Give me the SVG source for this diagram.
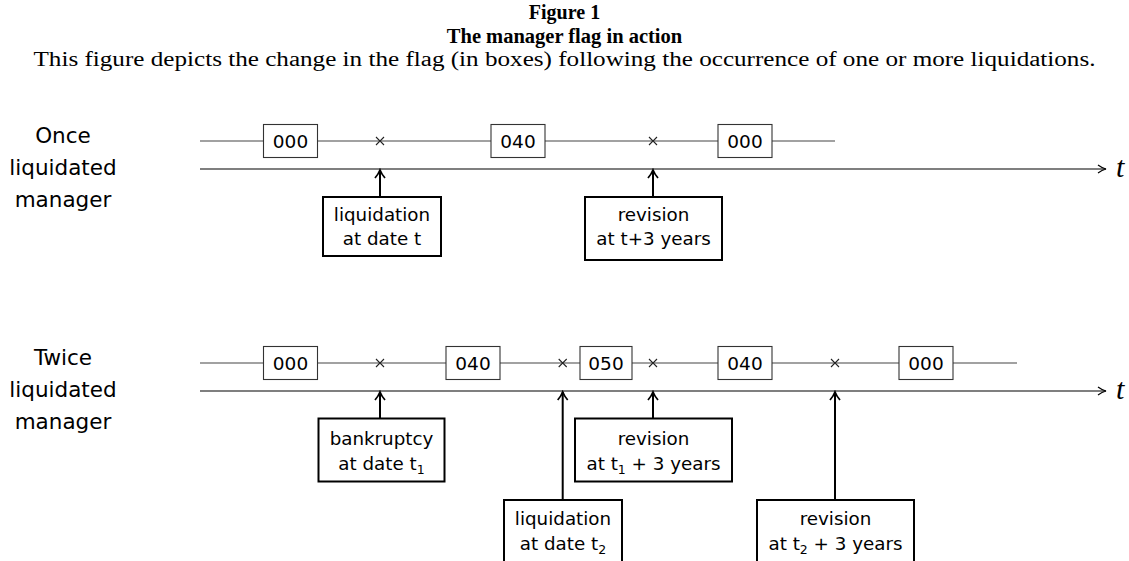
<svg xmlns="http://www.w3.org/2000/svg" width="1129" height="561" viewBox="0 0 1129 561">
<defs>
<style>
.serif{font-family:"Liberation Serif","DejaVu Serif",serif;fill:#000}
.sans{font-family:"DejaVu Sans","Liberation Sans",sans-serif;fill:#000}
.side{font-size:21.5px;text-anchor:middle}
.flagline{stroke:#444;stroke-width:1.1;fill:none}
.axis{stroke:#000;stroke-width:1.2;fill:none}
.flag rect{fill:#fff;stroke:#333;stroke-width:1.1}
.flag text{font-size:18.5px;text-anchor:middle}
.ev rect{fill:#fff;stroke:#000;stroke-width:2}
.ev text{font-size:18.3px;text-anchor:middle}
.up{stroke:#000;stroke-width:2;fill:none}
.mark{stroke:#222;stroke-width:1.1;fill:none}
.sub{font-size:12.5px}
</style>
<marker id="ah" viewBox="0 0 10 10" refX="9" refY="5" markerWidth="10" markerHeight="10" markerUnits="userSpaceOnUse" orient="auto">
<path d="M1,1 Q5,4 9,5 Q5,6 1,9" fill="none" stroke="#000" stroke-width="1.2"/>
</marker>
<marker id="uh" viewBox="0 0 12 12" refX="10" refY="6" markerWidth="12" markerHeight="12" markerUnits="userSpaceOnUse" orient="auto">
<path d="M2,1 Q6,4.5 10,6 Q6,7.5 2,11" fill="none" stroke="#000" stroke-width="1.8"/>
</marker>
</defs>
<rect width="1129" height="561" fill="#fff"/>

<g id="title" class="serif" text-anchor="middle">
<text x="564.5" y="19" font-size="20" font-weight="bold">Figure 1</text>
<text x="564.5" y="43" font-size="20.5" font-weight="bold">The manager flag in action</text>
<text x="564.5" y="66" font-size="20" textLength="1062" lengthAdjust="spacingAndGlyphs">This figure depicts the change in the flag (in boxes) following the occurrence of one or more liquidations.</text>
</g>

<g id="label-once" class="sans side">
<text x="63" y="143">Once</text>
<text x="63" y="175">liquidated</text>
<text x="63" y="207">manager</text>
</g>
<g id="label-twice" class="sans side">
<text x="63" y="365">Twice</text>
<text x="63" y="397">liquidated</text>
<text x="63" y="429">manager</text>
</g>

<g id="connectors">
<line class="flagline" x1="200" y1="141" x2="835" y2="141"/>
<line class="axis" x1="200" y1="169" x2="1106" y2="169" marker-end="url(#ah)"/>
<line class="flagline" x1="200" y1="363" x2="1017" y2="363"/>
<line class="axis" x1="200" y1="391" x2="1106" y2="391" marker-end="url(#ah)"/>
<path class="mark" d="M376,137 l4,4 l-4,4 M384,137 l-4,4 l4,4 M649,137 l4,4 l-4,4 M657,137 l-4,4 l4,4"/>
<path class="mark" d="M376,359 l4,4 l-4,4 M384,359 l-4,4 l4,4 M558.7,359 l4,4 l-4,4 M566.7,359 l-4,4 l4,4 M649,359 l4,4 l-4,4 M657,359 l-4,4 l4,4 M831,359 l4,4 l-4,4 M839,359 l-4,4 l4,4"/>
<line class="up" x1="380" y1="197" x2="380" y2="170" marker-end="url(#uh)"/>
<line class="up" x1="653" y1="197" x2="653" y2="170" marker-end="url(#uh)"/>
<line class="up" x1="380" y1="418" x2="380" y2="392" marker-end="url(#uh)"/>
<line class="up" x1="562.7" y1="500" x2="562.7" y2="392" marker-end="url(#uh)"/>
<line class="up" x1="653" y1="418" x2="653" y2="392" marker-end="url(#uh)"/>
<line class="up" x1="835" y1="500" x2="835" y2="392" marker-end="url(#uh)"/>
<text class="serif" x="1116" y="177" font-size="30" font-style="italic">t</text>
<text class="serif" x="1116" y="399" font-size="30" font-style="italic">t</text>
</g>

<g id="flag-1a" class="flag sans"><rect x="263.5" y="124.5" width="54" height="33"/><text x="290.5" y="147.5">000</text></g>
<g id="flag-1b" class="flag sans"><rect x="491" y="124.5" width="54" height="33"/><text x="518" y="147.5">040</text></g>
<g id="flag-1c" class="flag sans"><rect x="718" y="124.5" width="54" height="33"/><text x="745" y="147.5">000</text></g>

<g id="flag-2a" class="flag sans"><rect x="263.5" y="346.5" width="54" height="33"/><text x="290.5" y="369.5">000</text></g>
<g id="flag-2b" class="flag sans"><rect x="446" y="346.5" width="54" height="33"/><text x="473" y="369.5">040</text></g>
<g id="flag-2c" class="flag sans"><rect x="580" y="346.5" width="52" height="33"/><text x="606" y="369.5">050</text></g>
<g id="flag-2d" class="flag sans"><rect x="718" y="346.5" width="54" height="33"/><text x="745" y="369.5">040</text></g>
<g id="flag-2e" class="flag sans"><rect x="899" y="346.5" width="54" height="33"/><text x="926" y="369.5">000</text></g>

<g id="ev-liquidation-t" class="ev sans"><rect x="323" y="197" width="118" height="59"/><text x="382" y="221">liquidation</text><text x="382" y="245">at date t</text></g>
<g id="ev-revision-t3" class="ev sans"><rect x="585" y="197" width="137" height="63"/><text x="653.5" y="221">revision</text><text x="653.5" y="245">at t+3 years</text></g>

<g id="ev-bankruptcy-t1" class="ev sans"><rect x="318.5" y="418.5" width="126" height="63"/><text x="381.5" y="445">bankruptcy</text><text x="381.5" y="470">at date t<tspan class="sub" dy="4">1</tspan></text></g>
<g id="ev-revision-t1" class="ev sans"><rect x="575" y="418.5" width="157" height="63"/><text x="653.5" y="445">revision</text><text x="653.5" y="470">at t<tspan class="sub" dy="4">1</tspan><tspan dy="-4"> + 3 years</tspan></text></g>
<g id="ev-liquidation-t2" class="ev sans"><rect x="504" y="500" width="118" height="70"/><text x="563" y="525">liquidation</text><text x="563" y="550">at date t<tspan class="sub" dy="4">2</tspan></text></g>
<g id="ev-revision-t2" class="ev sans"><rect x="757" y="500" width="157" height="70"/><text x="835.5" y="525">revision</text><text x="835.5" y="550">at t<tspan class="sub" dy="4">2</tspan><tspan dy="-4"> + 3 years</tspan></text></g>
</svg>
